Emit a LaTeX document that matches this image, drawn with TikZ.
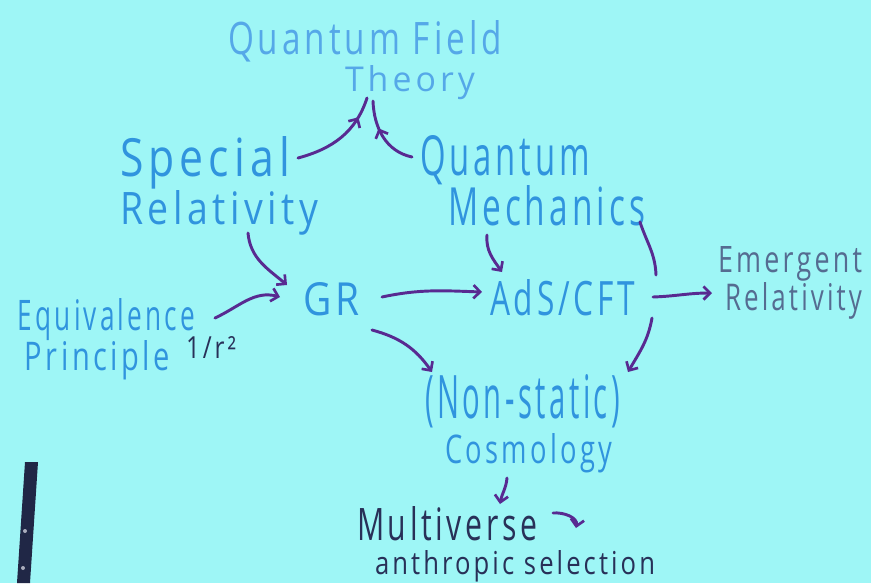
\documentclass[tikz,border=0pt]{standalone}
\usepackage{fontspec}
\setmainfont{Open Sans}
\usepackage{graphicx}
\usetikzlibrary{arrows.meta,decorations.markings}
\definecolor{board}{RGB}{158,246,246}
\definecolor{qftblue}{RGB}{85,168,232}
\definecolor{pen}{RGB}{48,148,222}
\definecolor{grayblue}{RGB}{85,108,145}
\definecolor{navy}{RGB}{40,48,88}
\definecolor{arrowpurple}{RGB}{88,42,145}
\newdimen\pxu \pxu=0.75pt
\newcommand{\hw}[3]{\resizebox{#1\pxu}{#2\pxu}{\addfontfeatures{LetterSpace=12}#3}}
\tikzset{
  txt/.style={anchor=base west, inner sep=0pt, outer sep=0pt},
  arr/.style={draw=arrowpurple, line width=2.2pt, line cap=round,
    -{Straight Barb[length=5pt,width=10pt,line width=2pt]}},
  plain/.style={draw=arrowpurple, line width=2.2pt, line cap=round},
  midarr/.style={draw=arrowpurple, line width=2.2pt, line cap=round,
    postaction={decorate}, decoration={markings,
    mark=at position #1 with {\arrow{Straight Barb[length=5pt,width=10pt,line width=2pt]}}}}
}
\begin{document}
\begin{tikzpicture}[x=0.75pt,y=0.75pt]
\useasboundingbox (0,0) rectangle (871,-583);
\fill[board] (0,0) rectangle (871,-583);
% marker
\fill[navy!80!black] (25,-462) -- (38,-462) -- (30,-583) -- (17,-583) -- cycle;
\fill[white!60!navy] (25,-531) circle (2);
\fill[white!60!navy] (23,-568) circle (2);

% texts
\node[txt, text=qftblue] (qftA) at (228,-54) {\hw{274}{34}{Quantum Field}};
\node[txt, text=qftblue] (qftB) at (345,-91) {\hw{130}{26}{Theory}};
\node[txt, text=pen] (sr1) at (120,-176) {\hw{170}{40}{Special}};
\node[txt, text=pen] (sr2) at (120,-224) {\hw{198}{34}{Relativity}};
\node[txt, text=pen] (qm1) at (420,-175) {\hw{170}{40}{Quantum}};
\node[txt, text=pen] (qm2) at (448,-225) {\hw{197}{40}{Mechanics}};
\node[txt, text=pen] (ep1) at (18,-330) {\hw{177}{32}{Equivalence}};
\node[txt, text=pen] (ep2) at (25,-370) {\hw{145}{30}{Principle}};
\node[txt, text=navy] (inv) at (186,-358) {\hw{50}{22}{1/r²}};
\node[txt, text=pen] (gr) at (303,-315) {\hw{57}{33}{GR}};
\node[txt, text=pen] (ads) at (490,-315) {\hw{145}{36}{AdS/CFT}};
\node[txt, text=grayblue] (er1) at (718,-272) {\hw{144}{26}{Emergent}};
\node[txt, text=grayblue] (er2) at (725,-310) {\hw{137}{28}{Relativity}};
\node[txt, text=pen] (cos1) at (425,-418) {\hw{195}{44}{(Non-static)}};
\node[txt, text=pen] (cos2) at (445,-463) {\hw{167}{30}{Cosmology}};
\node[txt, text=navy] (mv) at (357,-540) {\hw{180}{34}{Multiverse}};
\node[txt, text=navy] (an) at (375,-574) {\hw{280}{24}{anthropic selection}};

% connectors
\draw[midarr=0.78] ([shift={(178,18)}]sr1.base west) to[out=15,in=-108] ([shift={(22,-7)}]qftB.base west);
\draw[midarr=0.62] ([shift={(-8,18)}]qm1.base west) to[out=168,in=-88] ([shift={(28,-10)}]qftB.base west);
\draw[arr] ([shift={(128,-9)}]sr2.base west) to[out=-85,in=140] ([shift={(-16,30)}]gr.base west);
\draw[arr] ([shift={(197,12)}]ep1.base west) to[out=25,in=165] ([shift={(-23,18)}]gr.base west);
\draw[arr] ([shift={(79,18)}]gr.base west) to[out=12,in=178] ([shift={(-8,23)}]ads.base west);
\draw[arr] ([shift={(39,-10)}]qm2.base west) to[out=-95,in=125] ([shift={(12,43)}]ads.base west);
\draw[arr] ([shift={(69,-15)}]gr.base west) to[out=-15,in=125] ([shift={(7,46)}]cos1.base west);
\draw[arr] ([shift={(162,-3)}]ads.base west) to[out=-100,in=60] ([shift={(203,46)}]cos1.base west);
\draw[arr] ([shift={(163,18)}]ads.base west) to[out=2,in=180] ([shift={(-13,17)}]er2.base west);
\draw[plain] ([shift={(192,3)}]qm2.base west) to[out=-72,in=92] ([shift={(166,40)}]ads.base west);
\draw[arr] ([shift={(62,-15)}]cos2.base west) to[out=-95,in=80] ([shift={(143,36)}]mv.base west);
\coordinate (sel) at (576,-528);
\draw[arr] ([shift={(196,27)}]mv.base west) to[out=5,in=80] (sel);
\end{tikzpicture}
\end{document}
